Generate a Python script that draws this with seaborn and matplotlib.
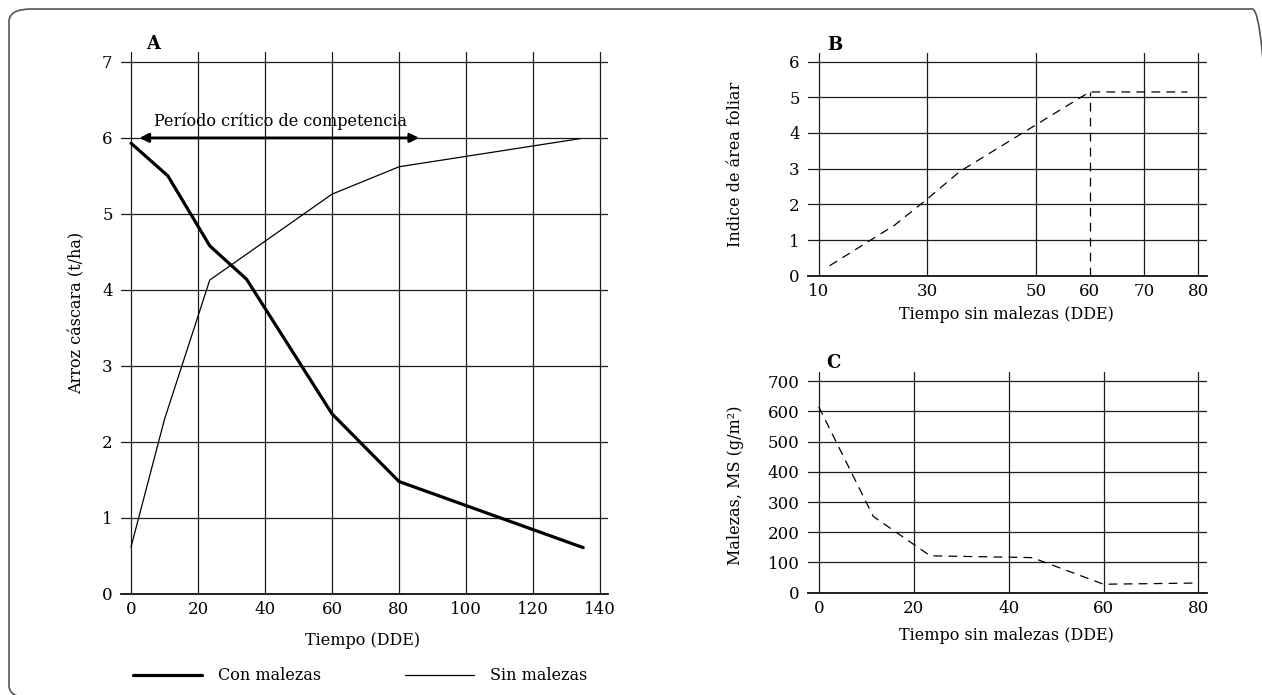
import matplotlib
matplotlib.use("Agg")
import matplotlib.pyplot as plt
from matplotlib.lines import Line2D
from matplotlib.patches import FancyBboxPatch
import seaborn as sns

# ---------------- data ----------------
# Panel A: yield of rough rice (t/ha) vs time (DDE)
a_con_x = [0, 11, 23.5, 34.5, 60, 80, 135]
a_con_y = [5.93, 5.50, 4.58, 4.14, 2.37, 1.48, 0.61]
a_sin_x = [0, 10, 23.5, 60, 80, 134]
a_sin_y = [0.62, 2.30, 4.13, 5.26, 5.62, 5.99]
a_xticks = [0, 20, 40, 60, 80, 100, 120, 140]
a_yticks = [0, 1, 2, 3, 4, 5, 6, 7]
critical_period = [2.5, 86]
critical_level = 6.0

# Panel B: leaf area index vs weed-free time
b_x = [12, 24, 30, 36, 58, 60, 78]
b_y = [0.28, 1.42, 2.15, 2.92, 4.97, 5.15, 5.15]
b_drop_x = 60
b_xticks = [10, 30, 50, 60, 70, 80]
b_grid_x = [10, 30, 50, 70, 80]
b_yticks = [0, 1, 2, 3, 4, 5, 6]

# Panel C: weed dry matter vs weed-free time
c_x = [0, 11.5, 23.5, 45, 60, 80]
c_y = [615, 252, 122, 116, 28, 32]
c_xticks = [0, 20, 40, 60, 80]
c_yticks = [0, 100, 200, 300, 400, 500, 600, 700]

# ---------------- style ----------------
sns.set_style("white")
plt.rcParams["font.family"] = ["DejaVu Serif"]
plt.rcParams["text.color"] = "black"
plt.rcParams["axes.labelcolor"] = "black"

W, H = 1262, 695
fig = plt.figure(figsize=(W / 100, H / 100), dpi=100)

def px_axes(x0, y0, x1, y1):
    return fig.add_axes([x0 / W, 1 - y1 / H, (x1 - x0) / W, (y1 - y0) / H])

GRID_C = "#1c1c1c"
GRID_LW = 0.9
TICK_FS = 12
LAB_FS = 11.5

def style_axes(ax, xticks, yticks, xlim, ylim, gridx=None):
    ax.set_xlim(*xlim)
    ax.set_ylim(*ylim)
    ax.set_xticks(xticks)
    ax.set_yticks(yticks)
    ax.grid(False)
    for v in (gridx if gridx is not None else xticks):
        ax.axvline(v, color=GRID_C, lw=GRID_LW, zorder=1)
    for v in yticks:
        ax.axhline(v, color=GRID_C, lw=GRID_LW, zorder=1)
    for s in ["left", "right", "top"]:
        ax.spines[s].set_visible(False)
    ax.spines["bottom"].set_color("#111111")
    ax.spines["bottom"].set_linewidth(1.3)
    ax.tick_params(axis="both", length=0, labelsize=TICK_FS, colors="black")
    ax.tick_params(axis="x", pad=5)
    ax.tick_params(axis="y", pad=6)
    ax.set_facecolor("white")

# ---------------- Panel A ----------------
axA = px_axes(121, 52, 608, 594)
style_axes(axA, a_xticks, a_yticks, (-3, 142.4), (0, 7.13))
sns.lineplot(x=a_con_x, y=a_con_y, ax=axA, color="black", lw=2.3, sort=False, zorder=3)
sns.lineplot(x=a_sin_x, y=a_sin_y, ax=axA, color="black", lw=0.9, sort=False, zorder=3)
axA.annotate("", xy=(critical_period[0], critical_level), xytext=(critical_period[1], critical_level),
             arrowprops=dict(arrowstyle="<|-|>", lw=2.0, color="black", mutation_scale=13,
                             shrinkA=0, shrinkB=0), zorder=4)
axA.text(sum(critical_period) / 2 + 0.5, critical_level + 0.1, "Período crítico de competencia",
         ha="center", va="bottom", fontsize=LAB_FS)
axA.set_xlabel("Tiempo (DDE)", fontsize=LAB_FS)
axA.xaxis.set_label_coords(0.4965, -0.070)
axA.set_ylabel("Arroz cáscara (t/ha)", fontsize=LAB_FS)
axA.yaxis.set_label_coords(-0.072, 0.519)
axA.text(0.066, 1.015, "A", transform=axA.transAxes, fontsize=13, fontweight="bold",
         ha="center", va="center")

# ---------------- Panel B ----------------
axB = px_axes(808, 52.7, 1207, 275.7)
style_axes(axB, b_xticks, b_yticks, (8.0, 81.6), (0, 6.25), gridx=b_grid_x)
dash = (0, (7, 5))
sns.lineplot(x=b_x, y=b_y, ax=axB, color="black", lw=0.9, sort=False, linestyle=dash, zorder=3)
axB.vlines(b_drop_x, 0, b_y[b_x.index(b_drop_x)], color="black", lw=0.9, linestyles=[dash], zorder=3)
axB.set_xlabel("Tiempo sin malezas (DDE)", fontsize=LAB_FS)
axB.xaxis.set_label_coords(0.498, -0.136)
axB.set_ylabel("Indice de área foliar", fontsize=LAB_FS)
axB.yaxis.set_label_coords(-0.160, 0.50)
axB.text(0.068, 1.035, "B", transform=axB.transAxes, fontsize=13, fontweight="bold",
         ha="center", va="center")

# ---------------- Panel C ----------------
axC = px_axes(808, 371.7, 1207, 592.7)
style_axes(axC, c_xticks, c_yticks, (-2.26, 81.8), (0, 731))
sns.lineplot(x=c_x, y=c_y, ax=axC, color="black", lw=0.9, sort=False, linestyle=dash, zorder=3)
axC.set_xlabel("Tiempo sin malezas (DDE)", fontsize=LAB_FS)
axC.xaxis.set_label_coords(0.498, -0.155)
axC.set_ylabel("Malezas, MS (g/m²)", fontsize=LAB_FS)
axC.yaxis.set_label_coords(-0.160, 0.484)
axC.text(0.065, 1.039, "C", transform=axC.transAxes, fontsize=13, fontweight="bold",
         ha="center", va="center")

# ---------------- legend ----------------
handles = [Line2D([], [], color="black", lw=2.3), Line2D([], [], color="black", lw=0.9)]
fig.legend(handles, ["Con malezas", "Sin malezas"], loc="center left",
           bbox_to_anchor=(133 / W, 1 - 676 / H), ncol=2, frameon=False,
           borderpad=0, borderaxespad=0, handlelength=4.3, handletextpad=1.0,
           columnspacing=5.3, fontsize=LAB_FS)

# ---------------- frame ----------------
frame = FancyBboxPatch((9 / W, 1 - 698 / H), (1275 - 9) / W, (698 - 9) / H,
                       boxstyle="round,pad=0,rounding_size=0.018", transform=fig.transFigure,
                       fill=False, edgecolor="#555555", lw=1.2, clip_on=False)
fig.patches.append(frame)

fig.savefig("out.png", dpi=100)
